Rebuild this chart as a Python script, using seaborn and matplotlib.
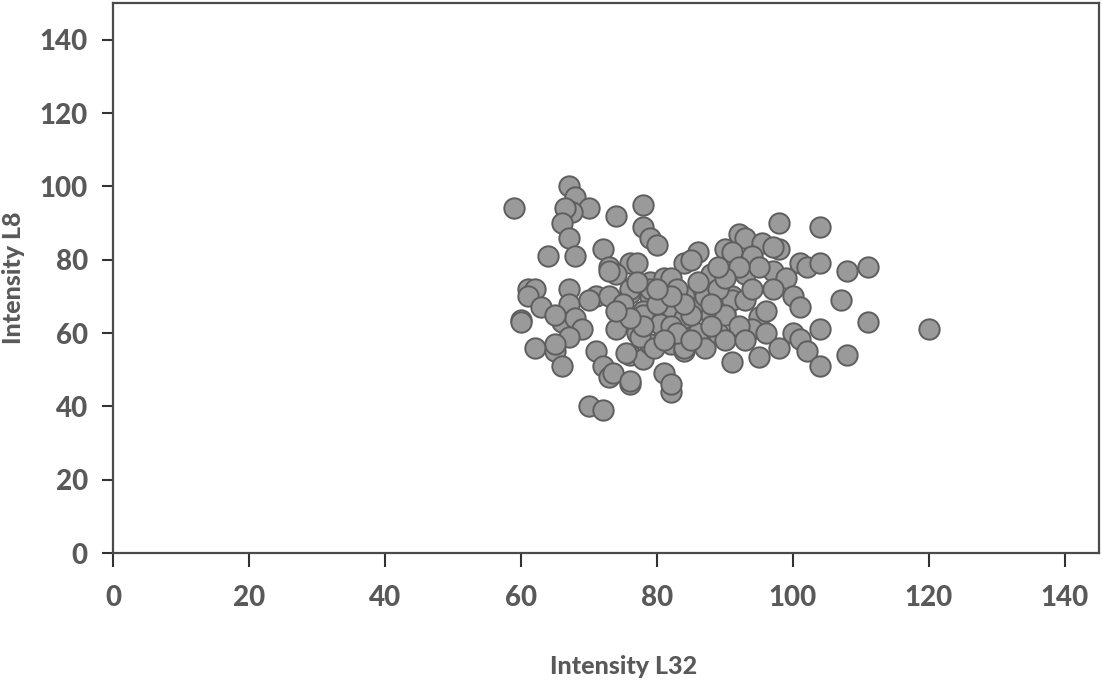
import matplotlib
matplotlib.use("Agg")
import matplotlib.pyplot as plt
import seaborn as sns
import pandas as pd

# Intensity L32 (x) / Intensity L8 (y)
intensity_l32 = [
    59, 67, 68, 70, 67.5, 66.5, 66, 67, 68, 64,
    74, 78, 78, 79, 80, 72, 86, 76, 77, 84,
    85, 73, 74, 61, 62, 67, 71, 61, 63, 67,
    60, 60, 66, 68, 69, 67, 62, 65, 66, 71,
    72, 73, 70, 72, 74, 73, 77, 76, 76, 78,
    81, 82, 79, 82, 84, 86, 87, 80, 82, 84,
    79, 76, 78, 81, 82, 73, 76, 79, 81, 82,
    88, 90, 91, 79, 78, 80.5, 82, 84, 86, 88,
    90, 77.5, 79.5, 82, 84, 89, 91, 75.5, 73.5, 76,
    82, 98, 104, 92, 93, 95.5, 98, 97, 91, 94,
    101, 102, 104, 108, 111, 93, 97, 99, 95, 107,
    100, 101, 91, 93, 90, 95, 111, 104, 94, 96,
    100, 101, 102, 98, 95, 104, 108, 120, 75, 77,
    80, 83, 85, 87, 89, 86, 88, 83, 85, 81,
    78, 76, 74, 92, 94, 96, 92, 90, 88, 84,
    82, 80, 90, 93, 97, 89, 70, 65, 65,
]
intensity_l8 = [
    94, 100, 97, 94, 93, 94, 90, 86, 81, 81,
    92, 95, 89, 86, 84, 83, 82, 79, 79, 79,
    80, 78, 76, 72, 72, 72, 70, 70, 67, 68,
    63.5, 63, 63, 64, 61, 59, 56, 55, 51, 55,
    51, 48, 40, 39, 61, 70, 60, 46, 54, 53,
    49, 44, 57, 57, 55, 60, 56, 64, 66, 70,
    70, 71, 66, 61, 62, 77, 72, 74, 75, 75,
    76, 83, 70, 72, 65, 62.5, 67, 64, 67, 65,
    65.5, 59, 56, 62, 56, 60, 52, 54.5, 49, 47,
    46, 90, 89, 87, 86, 84.5, 83, 83.5, 82, 81,
    79, 78, 79, 77, 78, 76, 77, 75, 78, 69,
    70, 67, 69, 69, 65, 64.5, 63, 61, 61, 60,
    60, 58.5, 55, 56, 53.5, 51, 54, 61, 68, 74,
    68, 72, 65, 70, 72, 74, 68, 60, 58, 58,
    62, 64, 66, 78, 72, 66, 62, 58, 62, 68,
    70, 72, 75, 58, 72, 78, 69, 65, 57,
]

df = pd.DataFrame({"l32": intensity_l32, "l8": intensity_l8})

sns.set_style("white")
plt.rcParams["font.family"] = ["Lato", "DejaVu Sans"]

grey_txt = "#595959"

fig = plt.figure(figsize=(11.02, 6.85), dpi=100)
ax = fig.add_axes([0.1025, 0.1927, 0.8948, 0.8029])

sns.scatterplot(
    data=df, x="l32", y="l8", ax=ax,
    s=215, color="#9a9a9a", edgecolor="#5e5e5e", linewidth=1.4,
    legend=False, zorder=3,
)

ax.set_xlim(0, 145)
ax.set_ylim(0, 150)
ax.set_xticks(range(0, 141, 20))
ax.set_yticks(range(0, 141, 20))

for side in ["left", "bottom", "top", "right"]:
    ax.spines[side].set_visible(True)
    ax.spines[side].set_color("#4a4a4a")
    ax.spines[side].set_linewidth(1.6)

ax.tick_params(axis="y", direction="out", length=8, width=1.5, color="#333333",
               pad=10, labelsize=20, labelcolor=grey_txt, left=True)
ax.tick_params(axis="x", direction="out", length=10, width=1.5, color="#333333",
               pad=13, labelsize=20, labelcolor=grey_txt, bottom=True)
for lbl in ax.get_xticklabels() + ax.get_yticklabels():
    lbl.set_fontweight("black")

ax.set_xlabel("Intensity L32", fontsize=18, fontweight="black", color=grey_txt)
ax.set_ylabel("Intensity L8", fontsize=18, fontweight="black", color=grey_txt)
ax.xaxis.set_label_coords(0.518, -0.185)
ax.yaxis.set_label_coords(-0.089, 0.5)

fig.savefig("out.png", dpi=100)
plt.close(fig)
